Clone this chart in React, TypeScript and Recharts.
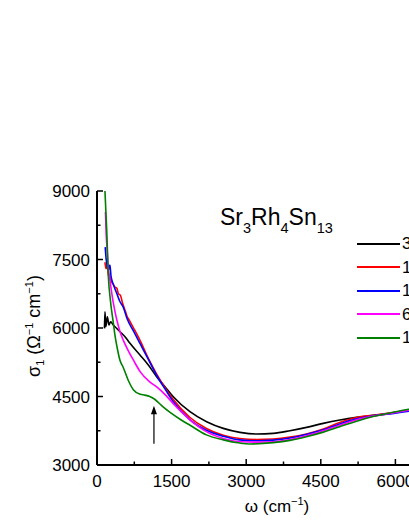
import React from 'react'
import { LineChart, Line, XAxis, YAxis, ReferenceLine, ReferenceDot } from 'recharts'

// frequency (cm^-1) and sigma_1 (Ohm^-1 cm^-1)
const w300 = [150, 160, 178, 208, 241, 275, 328, 395, 462, 563, 663, 864, 1032, 1199, 1367, 1534, 1869, 2204, 2539, 2874, 3209, 3544, 3879, 4214, 4549, 4884, 5219, 5554, 5889, 6271, 6600, 7000, 7500]
const s300 = [5992, 6357, 6029, 6248, 6065, 6138, 6065, 5992, 5919, 5810, 5664, 5408, 5189, 4934, 4715, 4496, 4167, 3948, 3802, 3715, 3678, 3693, 3751, 3824, 3912, 3985, 4043, 4087, 4131, 4204, 4250, 4320, 4400]

const w150 = [160, 180, 205, 230, 260, 290, 330, 360, 400, 430, 470, 510, 560, 600, 660, 730, 870, 1030, 1200, 1370, 1530, 1870, 2200, 2540, 2870, 3210, 3540, 3880, 4210, 4550, 4880, 5220, 5550, 5890, 6270, 6600, 7000, 7500]
const s150 = [7440, 7300, 7370, 7150, 7120, 7020, 6950, 6900, 6870, 6750, 6720, 6560, 6400, 6270, 6150, 6010, 5720, 5340, 4990, 4690, 4440, 4040, 3800, 3650, 3580, 3560, 3570, 3610, 3680, 3790, 3930, 4040, 4090, 4140, 4200, 4250, 4310, 4390]

const w100 = [165, 185, 205, 230, 260, 280, 330, 400, 460, 530, 600, 730, 870, 1030, 1200, 1370, 1530, 1870, 2200, 2540, 2870, 3210, 3540, 3880, 4210, 4550, 4880, 5220, 5550, 5890, 6270, 6600, 7000, 7500]
const s100 = [7770, 7500, 7350, 7270, 7380, 7150, 6950, 6750, 6580, 6450, 6220, 5940, 5650, 5320, 4960, 4660, 4390, 3990, 3760, 3630, 3550, 3530, 3545, 3590, 3670, 3770, 3900, 4010, 4080, 4120, 4180, 4240, 4300, 4380]

const w60 = [170, 185, 200, 225, 260, 330, 400, 460, 530, 630, 730, 870, 1060, 1200, 1370, 1530, 1700, 1870, 2200, 2540, 2870, 3210, 3540, 3880, 4210, 4550, 4880, 5220, 5550, 5890, 6270, 6600, 7000, 7500]
const s60 = [8540, 8050, 7780, 7350, 7050, 6540, 6170, 5930, 5730, 5500, 5300, 5040, 4820, 4710, 4540, 4350, 4160, 3990, 3730, 3580, 3510, 3500, 3510, 3560, 3640, 3750, 3870, 3990, 4070, 4130, 4200, 4260, 4320, 4400]

const w10 = [160, 195, 230, 270, 330, 360, 400, 460, 530, 630, 730, 870, 960, 1060, 1160, 1300, 1470, 1700, 1870, 2200, 2540, 2870, 3070, 3540, 3880, 4210, 4550, 4880, 5220, 5550, 5890, 6270, 6600, 7000, 7500]
const s10 = [9000, 8150, 7100, 6600, 6100, 5850, 5600, 5300, 5130, 4850, 4650, 4550, 4530, 4500, 4440, 4300, 4150, 3980, 3870, 3660, 3550, 3480, 3460, 3490, 3540, 3620, 3720, 3840, 3960, 4060, 4140, 4220, 4270, 4330, 4410]

const labels = ['300 K', '150 K', '120 K', '60 K', '10 K']
const colors = ['#000000', '#ff0000', '#0000ff', '#ff00ff', '#008000']
const wSets = [w300, w150, w100, w60, w10]
const sSets = [s300, s150, s100, s60, s10]

const xTicks = [0, 750, 1500, 2250, 3000, 3750, 4500, 5250, 6000, 6750, 7500]
const yTicks = [3000, 3750, 4500, 5250, 6000, 6750, 7500, 8250, 9000]

const arrowW = 1145
const arrowFrom = 3466
const arrowTo = 4300

const series = labels.map((name, i) => ({
  name,
  color: colors[i],
  data: wSets[i].map((w, j) => ({ w, s: sSets[i][j] })),
}))

const font = '"Liberation Sans", Arial, sans-serif'

const BottomTick = (props: any) => {
  const { x, y, payload } = props
  const major = payload.value % 1500 === 0
  return (
    <g>
      <line x1={x} y1={y} x2={x} y2={y - (major ? 6 : 3.5)} stroke="#000" strokeWidth={1.5} />
      {major && (
        <text x={x} y={y + 22} textAnchor="middle" fontSize={17} fontFamily={font} fill="#000">
          {payload.value}
        </text>
      )}
    </g>
  )
}

const TopTick = (props: any) => {
  const { x, y, payload } = props
  const major = payload.value % 1500 === 0
  return <line x1={x} y1={y} x2={x} y2={y + (major ? 6 : 3.5)} stroke="#000" strokeWidth={1.5} />
}

const LeftTick = (props: any) => {
  const { x, y, payload } = props
  const major = payload.value % 1500 === 0
  return (
    <g>
      <line x1={x} y1={y} x2={x + (major ? 6 : 3.5)} y2={y} stroke="#000" strokeWidth={1.5} />
      {major && (
        <text x={x - 7} y={y} dy="0.36em" textAnchor="end" fontSize={17} fontFamily={font} fill="#000">
          {payload.value}
        </text>
      )}
    </g>
  )
}

const ArrowHead = (props: any) => (
  <path d={`M${props.cx},${props.cy} l-3,8.5 l6,0 z`} fill="#000" />
)

const sup: React.CSSProperties = { fontSize: 11, verticalAlign: 7 }
const sub: React.CSSProperties = { fontSize: 11, verticalAlign: -4 }
const titleSub: React.CSSProperties = { fontSize: 14.5, verticalAlign: -8 }

export default function App() {
  return (
    <div style={{ position: 'fixed', left: 0, top: 0, width: 409, height: 529, overflow: 'hidden', fontFamily: font, background: '#fff' }}>
      <div style={{ position: 'absolute', left: 8, top: 8 }}>
        <LineChart width={480} height={507} margin={{ top: 183, right: 18, bottom: 0, left: 0 }}>
          <XAxis
            type="number"
            dataKey="w"
            domain={[0, 7500]}
            ticks={xTicks}
            allowDataOverflow
            interval={0}
            height={50}
            tickSize={0}
            tickMargin={0}
            tickLine={false}
            tick={<BottomTick />}
            axisLine={{ stroke: '#000', strokeWidth: 2 }}
          />
          <XAxis
            xAxisId="top"
            orientation="top"
            type="number"
            domain={[0, 7500]}
            ticks={xTicks}
            interval={0}
            height={0}
            tickSize={0}
            tickMargin={0}
            tickLine={false}
            tick={<TopTick />}
            axisLine={{ stroke: '#000', strokeWidth: 2 }}
          />
          <YAxis
            type="number"
            domain={[3000, 9000]}
            ticks={yTicks}
            allowDataOverflow
            interval={0}
            width={89}
            tickSize={0}
            tickMargin={0}
            tickLine={false}
            tick={<LeftTick />}
            axisLine={{ stroke: '#000', strokeWidth: 2 }}
          />
          {series.map(s => (
            <Line
              key={s.name}
              data={s.data}
              dataKey="s"
              name={s.name}
              stroke={s.color}
              strokeWidth={1.6}
              dot={false}
              type="monotone"
              isAnimationActive={false}
            />
          ))}
          <ReferenceLine
            segment={[{ x: arrowW, y: arrowFrom }, { x: arrowW, y: arrowTo - 170 }]}
            stroke="#000"
            strokeWidth={1.2}
          />
          <ReferenceDot x={arrowW} y={arrowTo} r={0} shape={<ArrowHead />} />
        </LineChart>
      </div>

      {/* legend, in series order */}
      <div style={{ position: 'absolute', left: 357, top: 232 }}>
        {series.map(s => (
          <div key={s.name} style={{ display: 'flex', alignItems: 'center', height: 23.5 }}>
            <svg width={44} height={4} style={{ display: 'block', flex: 'none' }}>
              <line x1={0} y1={2} x2={43} y2={2} stroke={s.color} strokeWidth={2} />
            </svg>
            <span style={{ fontSize: 17, lineHeight: 1, color: '#000', whiteSpace: 'nowrap', marginLeft: 1 }}>{s.name}</span>
          </div>
        ))}
      </div>

      <div style={{ position: 'absolute', left: 220, top: 206, fontSize: 23, lineHeight: 1, whiteSpace: 'nowrap', color: '#000' }}>
        Sr<span style={titleSub}>3</span>Rh<span style={titleSub}>4</span>Sn<span style={titleSub}>13</span>
      </div>

      <div style={{ position: 'absolute', left: 277, top: 506, transform: 'translate(-50%, -50%)', fontSize: 17, whiteSpace: 'nowrap', color: '#000' }}>
        ω (cm<span style={sup}>−1</span>)
      </div>

      <div style={{ position: 'absolute', left: 34, top: 326, transform: 'translate(-50%, -50%) rotate(-90deg)', fontSize: 18, whiteSpace: 'nowrap', color: '#000' }}>
        σ<span style={sub}>1</span> (Ω<span style={sup}>−1</span> cm<span style={sup}>−1</span>)
      </div>
    </div>
  )
}
